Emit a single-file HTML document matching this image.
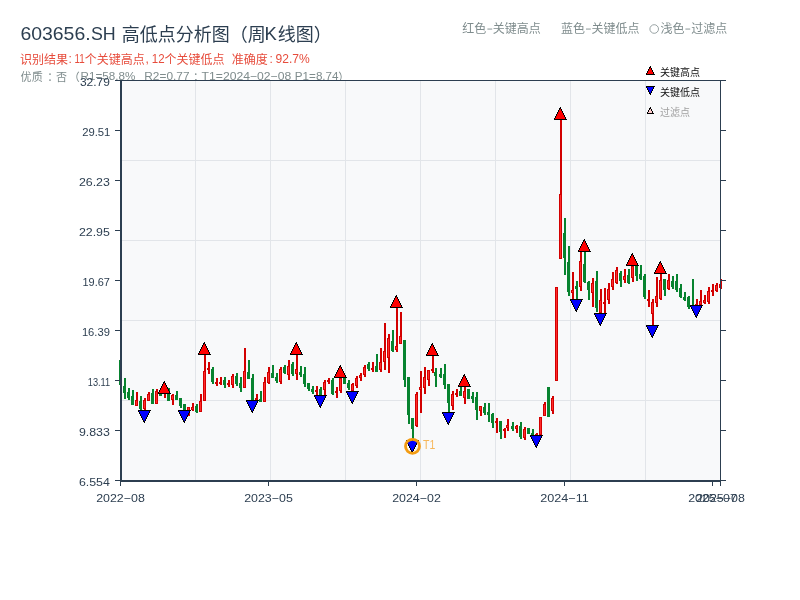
<!DOCTYPE html>
<html><head><meta charset="utf-8"><title>603656.SH</title>
<style>
html,body{margin:0;padding:0;background:#fff;}
body{width:800px;height:600px;overflow:hidden;font-family:"Liberation Sans","Noto Sans CJK SC",sans-serif;}
svg{display:block;will-change:transform;}
svg text{font-family:"Liberation Sans","Noto Sans CJK SC",sans-serif;}
</style></head><body>
<svg width="800" height="600" viewBox="0 0 800 600">
<defs>
<g id="tu" shape-rendering="crispEdges"><rect x="6" y="0" width="1" height="1" fill="#000"/><rect x="5" y="1" width="2" height="1" fill="#000"/><rect x="5" y="2" width="3" height="1" fill="#000"/><rect x="6" y="2" width="1" height="1" fill="#ff0000"/><rect x="4" y="3" width="4" height="1" fill="#000"/><rect x="5" y="3" width="2" height="1" fill="#ff0000"/><rect x="4" y="4" width="5" height="1" fill="#000"/><rect x="5" y="4" width="3" height="1" fill="#ff0000"/><rect x="3" y="5" width="6" height="1" fill="#000"/><rect x="4" y="5" width="4" height="1" fill="#ff0000"/><rect x="3" y="6" width="7" height="1" fill="#000"/><rect x="4" y="6" width="5" height="1" fill="#ff0000"/><rect x="2" y="7" width="8" height="1" fill="#000"/><rect x="3" y="7" width="6" height="1" fill="#ff0000"/><rect x="2" y="8" width="9" height="1" fill="#000"/><rect x="3" y="8" width="7" height="1" fill="#ff0000"/><rect x="1" y="9" width="10" height="1" fill="#000"/><rect x="2" y="9" width="8" height="1" fill="#ff0000"/><rect x="1" y="10" width="11" height="1" fill="#000"/><rect x="2" y="10" width="9" height="1" fill="#ff0000"/><rect x="0" y="11" width="12" height="1" fill="#000"/><rect x="1" y="11" width="10" height="1" fill="#ff0000"/><rect x="0" y="12" width="13" height="1" fill="#000"/></g><g id="td" shape-rendering="crispEdges"><rect x="6" y="12" width="1" height="1" fill="#000"/><rect x="5" y="11" width="2" height="1" fill="#000"/><rect x="5" y="10" width="3" height="1" fill="#000"/><rect x="6" y="10" width="1" height="1" fill="#0000ff"/><rect x="4" y="9" width="4" height="1" fill="#000"/><rect x="5" y="9" width="2" height="1" fill="#0000ff"/><rect x="4" y="8" width="5" height="1" fill="#000"/><rect x="5" y="8" width="3" height="1" fill="#0000ff"/><rect x="3" y="7" width="6" height="1" fill="#000"/><rect x="4" y="7" width="4" height="1" fill="#0000ff"/><rect x="3" y="6" width="7" height="1" fill="#000"/><rect x="4" y="6" width="5" height="1" fill="#0000ff"/><rect x="2" y="5" width="8" height="1" fill="#000"/><rect x="3" y="5" width="6" height="1" fill="#0000ff"/><rect x="2" y="4" width="9" height="1" fill="#000"/><rect x="3" y="4" width="7" height="1" fill="#0000ff"/><rect x="1" y="3" width="10" height="1" fill="#000"/><rect x="2" y="3" width="8" height="1" fill="#0000ff"/><rect x="1" y="2" width="11" height="1" fill="#000"/><rect x="2" y="2" width="9" height="1" fill="#0000ff"/><rect x="0" y="1" width="12" height="1" fill="#000"/><rect x="1" y="1" width="10" height="1" fill="#0000ff"/><rect x="0" y="0" width="13" height="1" fill="#000"/></g><g id="lu" shape-rendering="crispEdges"><rect x="4" y="0" width="1" height="1" fill="#000"/><rect x="3" y="1" width="2" height="1" fill="#000"/><rect x="3" y="2" width="3" height="1" fill="#000"/><rect x="4" y="2" width="1" height="1" fill="#ff0000"/><rect x="2" y="3" width="4" height="1" fill="#000"/><rect x="3" y="3" width="2" height="1" fill="#ff0000"/><rect x="2" y="4" width="5" height="1" fill="#000"/><rect x="3" y="4" width="3" height="1" fill="#ff0000"/><rect x="1" y="5" width="6" height="1" fill="#000"/><rect x="2" y="5" width="4" height="1" fill="#ff0000"/><rect x="1" y="6" width="7" height="1" fill="#000"/><rect x="2" y="6" width="5" height="1" fill="#ff0000"/><rect x="0" y="7" width="8" height="1" fill="#000"/><rect x="1" y="7" width="6" height="1" fill="#ff0000"/><rect x="0" y="8" width="9" height="1" fill="#000"/></g><g id="ld" shape-rendering="crispEdges"><rect x="4" y="8" width="1" height="1" fill="#000"/><rect x="3" y="7" width="2" height="1" fill="#000"/><rect x="3" y="6" width="3" height="1" fill="#000"/><rect x="4" y="6" width="1" height="1" fill="#0000ff"/><rect x="2" y="5" width="4" height="1" fill="#000"/><rect x="3" y="5" width="2" height="1" fill="#0000ff"/><rect x="2" y="4" width="5" height="1" fill="#000"/><rect x="3" y="4" width="3" height="1" fill="#0000ff"/><rect x="1" y="3" width="6" height="1" fill="#000"/><rect x="2" y="3" width="4" height="1" fill="#0000ff"/><rect x="1" y="2" width="7" height="1" fill="#000"/><rect x="2" y="2" width="5" height="1" fill="#0000ff"/><rect x="0" y="1" width="8" height="1" fill="#000"/><rect x="1" y="1" width="6" height="1" fill="#0000ff"/><rect x="0" y="0" width="9" height="1" fill="#000"/></g><g id="lp" shape-rendering="crispEdges"><rect x="3" y="0" width="1" height="1" fill="#000"/><rect x="2" y="1" width="2" height="1" fill="#000"/><rect x="2" y="2" width="3" height="1" fill="#000"/><rect x="3" y="2" width="1" height="1" fill="#ffcccc"/><rect x="1" y="3" width="4" height="1" fill="#000"/><rect x="2" y="3" width="2" height="1" fill="#ffcccc"/><rect x="1" y="4" width="5" height="1" fill="#000"/><rect x="2" y="4" width="3" height="1" fill="#ffcccc"/><rect x="0" y="5" width="6" height="1" fill="#000"/><rect x="1" y="5" width="4" height="1" fill="#ffcccc"/><rect x="0" y="6" width="7" height="1" fill="#000"/></g>
<clipPath id="pc"><rect x="119" y="80" width="603" height="402"/></clipPath>
</defs>
<rect width="800" height="600" fill="#fff"/>
<text x="20.5" y="80.8" font-size="11" fill="#7f8c8d" stroke="none" textLength="22.3">优质</text>
<text x="47.3" y="80.8" font-size="11" fill="#7f8c8d" stroke="none" textLength="11.0">：</text>
<text x="56.0" y="80.8" font-size="11" fill="#7f8c8d" stroke="none" textLength="11.0">否</text>
<text x="68.8" y="80.8" font-size="11" fill="#7f8c8d" stroke="none" textLength="11.0">（</text>
<text x="80.6" y="80.3" font-size="11" fill="#7f8c8d" textLength="54.8" lengthAdjust="spacingAndGlyphs">R1=58.8%</text>
<text x="144.3" y="80.3" font-size="11" fill="#7f8c8d" textLength="45.2" lengthAdjust="spacingAndGlyphs">R2=0.77</text>
<text x="193.0" y="80.8" font-size="11" fill="#7f8c8d" stroke="none" textLength="11.0">；</text>
<text x="201.6" y="80.3" font-size="11" fill="#7f8c8d" textLength="89.6" lengthAdjust="spacingAndGlyphs">T1=2024−02−08</text>
<text x="294.8" y="80.3" font-size="11" fill="#7f8c8d" textLength="43.8" lengthAdjust="spacingAndGlyphs">P1=8.74</text>
<text x="338.2" y="80.8" font-size="11" fill="#7f8c8d" stroke="none" textLength="11.0">）</text>
<text x="20.4" y="40.3" font-size="19" fill="#2c3e50" textLength="70.2" lengthAdjust="spacingAndGlyphs">603656.</text>
<text x="90.9" y="40.3" font-size="19" fill="#2c3e50" textLength="24.8" lengthAdjust="spacingAndGlyphs">SH</text>
<text x="121.7" y="41.4" font-size="18" fill="#2c3e50" stroke="none" textLength="144.0">高低点分析图（周</text>
<text x="264.4" y="40.3" font-size="18.5" fill="#2c3e50">K</text>
<text x="277.7" y="41.4" font-size="18" fill="#2c3e50" stroke="none" textLength="54.0">线图）</text>
<text x="20.0" y="63.6" font-size="12" fill="#e74c3c" stroke="none" textLength="48.0">识别结果</text>
<text x="68.6" y="63.3" font-size="12" fill="#e74c3c">:</text>
<text x="74.6" y="63.3" font-size="12" fill="#e74c3c" textLength="10.2" lengthAdjust="spacingAndGlyphs">11</text>
<text x="84.7" y="63.6" font-size="12" fill="#e74c3c" stroke="none" textLength="60.0">个关键高点</text>
<text x="145.4" y="63.3" font-size="12" fill="#e74c3c">,</text>
<text x="151.8" y="63.3" font-size="12" fill="#e74c3c" textLength="12.8" lengthAdjust="spacingAndGlyphs">12</text>
<text x="164.6" y="63.6" font-size="12" fill="#e74c3c" stroke="none" textLength="60.0">个关键低点</text>
<text x="231.8" y="63.6" font-size="12" fill="#e74c3c" stroke="none" textLength="36.0">准确度</text>
<text x="269.4" y="63.3" font-size="12" fill="#e74c3c">:</text>
<text x="275.6" y="63.3" font-size="12" fill="#e74c3c" textLength="34.2" lengthAdjust="spacingAndGlyphs">92.7%</text>
<text x="462.2" y="33.2" font-size="12" fill="#7f8c8d" stroke="none" textLength="24.0">红色</text>
<rect x="487.4" y="28.6" width="4.8" height="0.9" fill="#7f8c8d"/>
<text x="492.8" y="33.2" font-size="12" fill="#7f8c8d" stroke="none" textLength="48.0">关键高点</text>
<text x="561.0" y="33.2" font-size="12" fill="#7f8c8d" stroke="none" textLength="24.0">蓝色</text>
<rect x="586.0" y="28.6" width="4.8" height="0.9" fill="#7f8c8d"/>
<text x="591.6" y="33.2" font-size="12" fill="#7f8c8d" stroke="none" textLength="48.0">关键低点</text>
<circle cx="654.2" cy="29" r="4.3" fill="none" stroke="#7f8c8d" stroke-width="0.8"/>
<text x="660.5" y="33.2" font-size="12" fill="#7f8c8d" stroke="none" textLength="24.0">浅色</text>
<rect x="685.4" y="28.6" width="4.8" height="0.9" fill="#7f8c8d"/>
<text x="691.3" y="33.2" font-size="12" fill="#7f8c8d" stroke="none" textLength="36.0">过滤点</text>
<rect x="120" y="80" width="601" height="402" fill="#f8f9fa"/>
<rect x="122" y="160" width="598" height="1" fill="#e2e5e9"/>
<rect x="122" y="240" width="598" height="1" fill="#e2e5e9"/>
<rect x="122" y="320" width="598" height="1" fill="#e2e5e9"/>
<rect x="122" y="400" width="598" height="1" fill="#e2e5e9"/>
<rect x="195" y="81" width="1" height="399" fill="#e2e5e9"/>
<rect x="270" y="81" width="1" height="399" fill="#e2e5e9"/>
<rect x="345" y="81" width="1" height="399" fill="#e2e5e9"/>
<rect x="420" y="81" width="1" height="399" fill="#e2e5e9"/>
<rect x="495" y="81" width="1" height="399" fill="#e2e5e9"/>
<rect x="570" y="81" width="1" height="399" fill="#e2e5e9"/>
<rect x="645" y="81" width="1" height="399" fill="#e2e5e9"/>
<g clip-path="url(#pc)" shape-rendering="crispEdges">
<rect x="120.0" y="360" width="2" height="25" fill="#07832f"/>
<rect x="119.0" y="360" width="3" height="25" fill="#07832f"/>
<rect x="124.0" y="378" width="2" height="20.5" fill="#07832f"/>
<rect x="123.0" y="386" width="3" height="7" fill="#07832f"/>
<rect x="128.0" y="388" width="2" height="11.5" fill="#07832f"/>
<rect x="127.0" y="392" width="3" height="6" fill="#07832f"/>
<rect x="132.0" y="390" width="2" height="14.600000000000023" fill="#07832f"/>
<rect x="131.0" y="396" width="3" height="8.600000000000023" fill="#07832f"/>
<rect x="136.0" y="392" width="2" height="13.75" fill="#d20000"/>
<rect x="135.0" y="400" width="3" height="5.75" fill="#d20000"/>
<rect x="136.0" y="401" width="1" height="3.75" fill="#ff2b2b"/>
<rect x="140.0" y="396" width="2" height="14" fill="#07832f"/>
<rect x="139.0" y="401" width="3" height="7.75" fill="#07832f"/>
<rect x="144.0" y="398" width="2" height="12" fill="#d20000"/>
<rect x="143.0" y="400" width="3" height="8.75" fill="#d20000"/>
<rect x="144.0" y="401" width="1" height="6.75" fill="#ff2b2b"/>
<rect x="148.0" y="392" width="2" height="9" fill="#d20000"/>
<rect x="147.0" y="393.75" width="3" height="7.25" fill="#d20000"/>
<rect x="148.0" y="394.75" width="1" height="5.25" fill="#ff2b2b"/>
<rect x="152.0" y="389" width="2" height="15" fill="#07832f"/>
<rect x="151.0" y="393" width="3" height="11" fill="#07832f"/>
<rect x="156.0" y="389" width="2" height="15" fill="#d20000"/>
<rect x="155.0" y="391" width="3" height="13" fill="#d20000"/>
<rect x="156.0" y="392" width="1" height="11" fill="#ff2b2b"/>
<rect x="160.0" y="392" width="2" height="3.75" fill="#07832f"/>
<rect x="159.0" y="392" width="3" height="3.75" fill="#07832f"/>
<rect x="164.0" y="393" width="2" height="5" fill="#d20000"/>
<rect x="163.0" y="393" width="3" height="0.8" fill="#d20000"/>
<rect x="168.0" y="388" width="2" height="13" fill="#07832f"/>
<rect x="167.0" y="394" width="3" height="7" fill="#07832f"/>
<rect x="172.0" y="394" width="2" height="11" fill="#d20000"/>
<rect x="171.0" y="395" width="3" height="5" fill="#d20000"/>
<rect x="172.0" y="396" width="1" height="3" fill="#ff2b2b"/>
<rect x="176.0" y="391" width="2" height="9" fill="#07832f"/>
<rect x="175.0" y="395" width="3" height="5" fill="#07832f"/>
<rect x="180.0" y="398" width="2" height="9.75" fill="#07832f"/>
<rect x="179.0" y="398" width="3" height="8" fill="#07832f"/>
<rect x="184.0" y="404" width="2" height="6" fill="#07832f"/>
<rect x="183.0" y="404" width="3" height="6" fill="#07832f"/>
<rect x="188.0" y="407" width="2" height="8.600000000000023" fill="#d20000"/>
<rect x="187.0" y="407.4" width="3" height="5.600000000000023" fill="#d20000"/>
<rect x="188.0" y="408.4" width="1" height="3.6000000000000227" fill="#ff2b2b"/>
<rect x="192.0" y="403" width="2" height="7.75" fill="#d20000"/>
<rect x="191.0" y="407" width="3" height="2.6000000000000227" fill="#d20000"/>
<rect x="192.0" y="408" width="1" height="0.6000000000000227" fill="#ff2b2b"/>
<rect x="196.0" y="404" width="2" height="9" fill="#07832f"/>
<rect x="195.0" y="406" width="3" height="5.5" fill="#07832f"/>
<rect x="200.0" y="394" width="2" height="18" fill="#d20000"/>
<rect x="199.0" y="401" width="3" height="11" fill="#d20000"/>
<rect x="200.0" y="402" width="1" height="9" fill="#ff2b2b"/>
<rect x="204.0" y="354.5" width="2" height="46.5" fill="#d20000"/>
<rect x="203.0" y="371" width="3" height="30" fill="#d20000"/>
<rect x="204.0" y="372" width="1" height="28" fill="#ff2b2b"/>
<rect x="208.0" y="362" width="2" height="11.75" fill="#d20000"/>
<rect x="207.0" y="368" width="3" height="2" fill="#d20000"/>
<rect x="212.0" y="367" width="2" height="17" fill="#07832f"/>
<rect x="211.0" y="369.25" width="3" height="12.75" fill="#07832f"/>
<rect x="216.0" y="378" width="2" height="7.75" fill="#d20000"/>
<rect x="215.0" y="382" width="3" height="2" fill="#d20000"/>
<rect x="220.0" y="377" width="2" height="7.600000000000023" fill="#d20000"/>
<rect x="219.0" y="382" width="3" height="2" fill="#d20000"/>
<rect x="224.0" y="377" width="2" height="10.600000000000023" fill="#07832f"/>
<rect x="223.0" y="380" width="3" height="4.600000000000023" fill="#07832f"/>
<rect x="228.0" y="380" width="2" height="7" fill="#d20000"/>
<rect x="227.0" y="383" width="3" height="2" fill="#d20000"/>
<rect x="232.0" y="374" width="2" height="13.600000000000023" fill="#d20000"/>
<rect x="231.0" y="376" width="3" height="8.600000000000023" fill="#d20000"/>
<rect x="232.0" y="377" width="1" height="6.600000000000023" fill="#ff2b2b"/>
<rect x="236.0" y="373.4" width="2" height="12.350000000000023" fill="#07832f"/>
<rect x="235.0" y="376" width="3" height="8" fill="#07832f"/>
<rect x="240.0" y="377" width="2" height="14.75" fill="#07832f"/>
<rect x="239.0" y="383" width="3" height="4.600000000000023" fill="#07832f"/>
<rect x="244.0" y="348" width="2" height="39.60000000000002" fill="#d20000"/>
<rect x="243.0" y="371" width="3" height="16.600000000000023" fill="#d20000"/>
<rect x="244.0" y="372" width="1" height="14.600000000000023" fill="#ff2b2b"/>
<rect x="248.0" y="360" width="2" height="18.600000000000023" fill="#07832f"/>
<rect x="247.0" y="372" width="3" height="6.600000000000023" fill="#07832f"/>
<rect x="252.0" y="374" width="2" height="26" fill="#07832f"/>
<rect x="251.0" y="378" width="3" height="22" fill="#07832f"/>
<rect x="256.0" y="394" width="2" height="6" fill="#d20000"/>
<rect x="255.0" y="398" width="3" height="2" fill="#d20000"/>
<rect x="260.0" y="391" width="2" height="10.5" fill="#07832f"/>
<rect x="259.0" y="398.5" width="3" height="3.0" fill="#07832f"/>
<rect x="264.0" y="377" width="2" height="24.5" fill="#d20000"/>
<rect x="263.0" y="382" width="3" height="19.5" fill="#d20000"/>
<rect x="264.0" y="383" width="1" height="17.5" fill="#ff2b2b"/>
<rect x="268.0" y="367" width="2" height="17" fill="#d20000"/>
<rect x="267.0" y="372" width="3" height="11" fill="#d20000"/>
<rect x="268.0" y="373" width="1" height="9" fill="#ff2b2b"/>
<rect x="272.0" y="365.25" width="2" height="12.75" fill="#07832f"/>
<rect x="271.0" y="373" width="3" height="5" fill="#07832f"/>
<rect x="276.0" y="373" width="2" height="10" fill="#07832f"/>
<rect x="275.0" y="377.25" width="3" height="3.75" fill="#07832f"/>
<rect x="280.0" y="367" width="2" height="17" fill="#d20000"/>
<rect x="279.0" y="368.6" width="3" height="13.399999999999977" fill="#d20000"/>
<rect x="280.0" y="369.6" width="1" height="11.399999999999977" fill="#ff2b2b"/>
<rect x="284.0" y="365.25" width="2" height="8.75" fill="#07832f"/>
<rect x="283.0" y="367" width="3" height="5.75" fill="#07832f"/>
<rect x="288.0" y="360" width="2" height="20" fill="#d20000"/>
<rect x="287.0" y="366" width="3" height="9" fill="#d20000"/>
<rect x="288.0" y="367" width="1" height="7" fill="#ff2b2b"/>
<rect x="292.0" y="362" width="2" height="13.75" fill="#07832f"/>
<rect x="291.0" y="364" width="3" height="10" fill="#07832f"/>
<rect x="296.0" y="354.5" width="2" height="25.5" fill="#d20000"/>
<rect x="295.0" y="369.4" width="3" height="4.600000000000023" fill="#d20000"/>
<rect x="296.0" y="370.4" width="1" height="2.6000000000000227" fill="#ff2b2b"/>
<rect x="300.0" y="366" width="2" height="11" fill="#07832f"/>
<rect x="299.0" y="372" width="3" height="3" fill="#07832f"/>
<rect x="304.0" y="367" width="2" height="20" fill="#07832f"/>
<rect x="303.0" y="374" width="3" height="10" fill="#07832f"/>
<rect x="308.0" y="383" width="2" height="7.75" fill="#07832f"/>
<rect x="307.0" y="383.25" width="3" height="5.75" fill="#07832f"/>
<rect x="312.0" y="386" width="2" height="7.75" fill="#07832f"/>
<rect x="311.0" y="389" width="3" height="3" fill="#07832f"/>
<rect x="316.0" y="386" width="2" height="9" fill="#d20000"/>
<rect x="315.0" y="390" width="3" height="2" fill="#d20000"/>
<rect x="320.0" y="387" width="2" height="8" fill="#07832f"/>
<rect x="319.0" y="389" width="3" height="6" fill="#07832f"/>
<rect x="324.0" y="380" width="2" height="15" fill="#d20000"/>
<rect x="323.0" y="382" width="3" height="8" fill="#d20000"/>
<rect x="324.0" y="383" width="1" height="6" fill="#ff2b2b"/>
<rect x="328.0" y="378" width="2" height="5.75" fill="#d20000"/>
<rect x="327.0" y="380" width="3" height="2" fill="#d20000"/>
<rect x="332.0" y="378" width="2" height="17" fill="#07832f"/>
<rect x="331.0" y="380" width="3" height="14" fill="#07832f"/>
<rect x="336.0" y="387" width="2" height="11" fill="#d20000"/>
<rect x="335.0" y="391" width="3" height="1.75" fill="#d20000"/>
<rect x="340.0" y="377.5" width="2" height="15.25" fill="#d20000"/>
<rect x="339.0" y="378" width="3" height="13" fill="#d20000"/>
<rect x="340.0" y="379" width="1" height="11" fill="#ff2b2b"/>
<rect x="344.0" y="377.75" width="2" height="6.0" fill="#07832f"/>
<rect x="343.0" y="377.75" width="3" height="6.0" fill="#07832f"/>
<rect x="348.0" y="380" width="2" height="9.75" fill="#07832f"/>
<rect x="347.0" y="383" width="3" height="5" fill="#07832f"/>
<rect x="352.0" y="383" width="2" height="8" fill="#d20000"/>
<rect x="351.0" y="384" width="3" height="7" fill="#d20000"/>
<rect x="352.0" y="385" width="1" height="5" fill="#ff2b2b"/>
<rect x="356.0" y="376" width="2" height="12" fill="#d20000"/>
<rect x="355.0" y="378" width="3" height="8" fill="#d20000"/>
<rect x="356.0" y="379" width="1" height="6" fill="#ff2b2b"/>
<rect x="360.0" y="373" width="2" height="7.75" fill="#d20000"/>
<rect x="359.0" y="375" width="3" height="2.75" fill="#d20000"/>
<rect x="360.0" y="376" width="1" height="0.75" fill="#ff2b2b"/>
<rect x="364.0" y="365" width="2" height="12" fill="#d20000"/>
<rect x="363.0" y="367.25" width="3" height="7.75" fill="#d20000"/>
<rect x="364.0" y="368.25" width="1" height="5.75" fill="#ff2b2b"/>
<rect x="368.0" y="362" width="2" height="9" fill="#07832f"/>
<rect x="367.0" y="364.25" width="3" height="4.75" fill="#07832f"/>
<rect x="372.0" y="362" width="2" height="9.75" fill="#d20000"/>
<rect x="371.0" y="368" width="3" height="2" fill="#d20000"/>
<rect x="376.0" y="354" width="2" height="17.75" fill="#07832f"/>
<rect x="375.0" y="366" width="3" height="5.75" fill="#07832f"/>
<rect x="380.0" y="348" width="2" height="23.75" fill="#d20000"/>
<rect x="379.0" y="362" width="3" height="8" fill="#d20000"/>
<rect x="380.0" y="363" width="1" height="6" fill="#ff2b2b"/>
<rect x="384.0" y="323" width="2" height="47" fill="#d20000"/>
<rect x="383.0" y="351" width="3" height="11" fill="#d20000"/>
<rect x="384.0" y="352" width="1" height="9" fill="#ff2b2b"/>
<rect x="388.0" y="334" width="2" height="39" fill="#d20000"/>
<rect x="387.0" y="338" width="3" height="20" fill="#d20000"/>
<rect x="388.0" y="339" width="1" height="18" fill="#ff2b2b"/>
<rect x="392.0" y="330" width="2" height="22" fill="#07832f"/>
<rect x="391.0" y="341" width="3" height="10" fill="#07832f"/>
<rect x="396.0" y="307.5" width="2" height="44.5" fill="#d20000"/>
<rect x="395.0" y="346" width="3" height="4" fill="#d20000"/>
<rect x="396.0" y="347" width="1" height="2" fill="#ff2b2b"/>
<rect x="400.0" y="312" width="2" height="32" fill="#d20000"/>
<rect x="399.0" y="336" width="3" height="8" fill="#d20000"/>
<rect x="400.0" y="337" width="1" height="6" fill="#ff2b2b"/>
<rect x="404.0" y="340" width="2" height="47" fill="#07832f"/>
<rect x="403.0" y="340" width="3" height="40" fill="#07832f"/>
<rect x="408.0" y="377" width="2" height="47" fill="#07832f"/>
<rect x="407.0" y="377" width="3" height="38" fill="#07832f"/>
<rect x="412.0" y="418" width="2" height="21" fill="#07832f"/>
<rect x="411.0" y="418" width="3" height="11" fill="#07832f"/>
<rect x="416.0" y="392" width="2" height="35" fill="#d20000"/>
<rect x="415.0" y="394" width="3" height="32" fill="#d20000"/>
<rect x="416.0" y="395" width="1" height="30" fill="#ff2b2b"/>
<rect x="420.0" y="371" width="2" height="42" fill="#d20000"/>
<rect x="419.0" y="387" width="3" height="2.6000000000000227" fill="#d20000"/>
<rect x="420.0" y="388" width="1" height="0.6000000000000227" fill="#ff2b2b"/>
<rect x="424.0" y="367" width="2" height="27" fill="#d20000"/>
<rect x="423.0" y="377" width="3" height="11" fill="#d20000"/>
<rect x="424.0" y="378" width="1" height="9" fill="#ff2b2b"/>
<rect x="428.0" y="370" width="2" height="16" fill="#d20000"/>
<rect x="427.0" y="370.25" width="3" height="9.75" fill="#d20000"/>
<rect x="428.0" y="371.25" width="1" height="7.75" fill="#ff2b2b"/>
<rect x="432.0" y="355.5" width="2" height="17.5" fill="#d20000"/>
<rect x="431.0" y="369" width="3" height="2" fill="#d20000"/>
<rect x="435.0" y="368" width="2" height="18.75" fill="#07832f"/>
<rect x="434.0" y="372" width="3" height="4" fill="#07832f"/>
<rect x="440.0" y="368" width="2" height="9.75" fill="#07832f"/>
<rect x="439.0" y="374" width="3" height="3" fill="#07832f"/>
<rect x="444.0" y="364" width="2" height="25" fill="#07832f"/>
<rect x="443.0" y="374" width="3" height="11" fill="#07832f"/>
<rect x="448.0" y="384" width="2" height="28.5" fill="#07832f"/>
<rect x="447.0" y="384" width="3" height="19" fill="#07832f"/>
<rect x="452.0" y="391" width="2" height="19" fill="#d20000"/>
<rect x="451.0" y="394.25" width="3" height="11.75" fill="#d20000"/>
<rect x="452.0" y="395.25" width="1" height="9.75" fill="#ff2b2b"/>
<rect x="456.0" y="389" width="2" height="8" fill="#d20000"/>
<rect x="455.0" y="392.75" width="3" height="2.25" fill="#d20000"/>
<rect x="456.0" y="393.75" width="1" height="0.25" fill="#ff2b2b"/>
<rect x="460.0" y="387" width="2" height="8.75" fill="#07832f"/>
<rect x="459.0" y="391" width="3" height="4.75" fill="#07832f"/>
<rect x="464.0" y="387" width="2" height="17" fill="#d20000"/>
<rect x="463.0" y="391" width="3" height="7" fill="#d20000"/>
<rect x="464.0" y="392" width="1" height="5" fill="#ff2b2b"/>
<rect x="468.0" y="389" width="2" height="9.75" fill="#07832f"/>
<rect x="467.0" y="389" width="3" height="9.75" fill="#07832f"/>
<rect x="472.0" y="392" width="2" height="11" fill="#07832f"/>
<rect x="471.0" y="396" width="3" height="2.75" fill="#07832f"/>
<rect x="476.0" y="392" width="2" height="28" fill="#07832f"/>
<rect x="475.0" y="397" width="3" height="13" fill="#07832f"/>
<rect x="480.0" y="406" width="2" height="10" fill="#d20000"/>
<rect x="479.0" y="406" width="3" height="4.75" fill="#d20000"/>
<rect x="480.0" y="407" width="1" height="2.75" fill="#ff2b2b"/>
<rect x="484.0" y="403" width="2" height="12" fill="#07832f"/>
<rect x="483.0" y="407" width="3" height="6" fill="#07832f"/>
<rect x="488.0" y="403" width="2" height="19" fill="#07832f"/>
<rect x="487.0" y="412" width="3" height="3" fill="#07832f"/>
<rect x="492.0" y="413" width="2" height="15" fill="#07832f"/>
<rect x="491.0" y="413.75" width="3" height="9.0" fill="#07832f"/>
<rect x="496.0" y="418" width="2" height="15" fill="#d20000"/>
<rect x="495.0" y="421" width="3" height="2" fill="#d20000"/>
<rect x="500.0" y="421" width="2" height="18" fill="#07832f"/>
<rect x="499.0" y="421" width="3" height="11" fill="#07832f"/>
<rect x="504.0" y="428" width="2" height="10" fill="#d20000"/>
<rect x="503.0" y="428.75" width="3" height="1.8500000000000227" fill="#d20000"/>
<rect x="507.0" y="419" width="2" height="12" fill="#d20000"/>
<rect x="506.0" y="425" width="3" height="3.3999999999999773" fill="#d20000"/>
<rect x="507.0" y="426" width="1" height="1.3999999999999773" fill="#ff2b2b"/>
<rect x="512.0" y="422" width="2" height="9" fill="#07832f"/>
<rect x="511.0" y="425.75" width="3" height="3.25" fill="#07832f"/>
<rect x="516.0" y="425" width="2" height="7.75" fill="#d20000"/>
<rect x="515.0" y="426" width="3" height="3" fill="#d20000"/>
<rect x="516.0" y="427" width="1" height="1" fill="#ff2b2b"/>
<rect x="520.0" y="422" width="2" height="16.75" fill="#07832f"/>
<rect x="519.0" y="426" width="3" height="11" fill="#07832f"/>
<rect x="524.0" y="426.75" width="2" height="12.75" fill="#d20000"/>
<rect x="523.0" y="429" width="3" height="8.600000000000023" fill="#d20000"/>
<rect x="524.0" y="430" width="1" height="6.600000000000023" fill="#ff2b2b"/>
<rect x="528.0" y="428" width="2" height="5.5" fill="#07832f"/>
<rect x="527.0" y="428" width="3" height="5.5" fill="#07832f"/>
<rect x="532.0" y="429" width="2" height="6" fill="#07832f"/>
<rect x="531.0" y="432.75" width="3" height="2.25" fill="#07832f"/>
<rect x="536.0" y="432.75" width="2" height="2.25" fill="#d20000"/>
<rect x="535.0" y="433.5" width="3" height="1.5" fill="#d20000"/>
<rect x="540.0" y="417" width="2" height="18" fill="#d20000"/>
<rect x="539.0" y="417" width="3" height="18" fill="#d20000"/>
<rect x="540.0" y="418" width="1" height="16" fill="#ff2b2b"/>
<rect x="544.0" y="402" width="2" height="14" fill="#d20000"/>
<rect x="543.0" y="404" width="3" height="12" fill="#d20000"/>
<rect x="544.0" y="405" width="1" height="10" fill="#ff2b2b"/>
<rect x="548.0" y="387" width="2" height="29.600000000000023" fill="#07832f"/>
<rect x="547.0" y="387" width="3" height="29.600000000000023" fill="#07832f"/>
<rect x="552.0" y="396" width="2" height="17.600000000000023" fill="#d20000"/>
<rect x="551.0" y="398.25" width="3" height="12.350000000000023" fill="#d20000"/>
<rect x="552.0" y="399.25" width="1" height="10.350000000000023" fill="#ff2b2b"/>
<rect x="556.0" y="287" width="2" height="94" fill="#d20000"/>
<rect x="555.0" y="287" width="3" height="94" fill="#d20000"/>
<rect x="556.0" y="288" width="1" height="92" fill="#ff2b2b"/>
<rect x="560.0" y="119.5" width="2" height="139.5" fill="#d20000"/>
<rect x="559.0" y="194" width="3" height="65" fill="#d20000"/>
<rect x="560.0" y="195" width="1" height="63" fill="#ff2b2b"/>
<rect x="564.0" y="218" width="2" height="57" fill="#07832f"/>
<rect x="563.0" y="233" width="3" height="25" fill="#07832f"/>
<rect x="568.0" y="246" width="2" height="50" fill="#07832f"/>
<rect x="567.0" y="262" width="3" height="30" fill="#07832f"/>
<rect x="572.0" y="272" width="2" height="27" fill="#d20000"/>
<rect x="571.0" y="290" width="3" height="2.5" fill="#d20000"/>
<rect x="572.0" y="291" width="1" height="0.5" fill="#ff2b2b"/>
<rect x="576.0" y="281" width="2" height="18" fill="#07832f"/>
<rect x="575.0" y="286" width="3" height="3" fill="#07832f"/>
<rect x="580.0" y="251.5" width="2" height="39.0" fill="#d20000"/>
<rect x="579.0" y="261" width="3" height="26" fill="#d20000"/>
<rect x="580.0" y="262" width="1" height="24" fill="#ff2b2b"/>
<rect x="584.0" y="251.5" width="2" height="31.0" fill="#07832f"/>
<rect x="583.0" y="264" width="3" height="18" fill="#07832f"/>
<rect x="588.0" y="281" width="2" height="18.5" fill="#07832f"/>
<rect x="587.0" y="282" width="3" height="8" fill="#07832f"/>
<rect x="592.0" y="278" width="2" height="28.5" fill="#d20000"/>
<rect x="591.0" y="283" width="3" height="10" fill="#d20000"/>
<rect x="592.0" y="284" width="1" height="8" fill="#ff2b2b"/>
<rect x="596.0" y="271" width="2" height="40.5" fill="#07832f"/>
<rect x="595.0" y="281" width="3" height="27" fill="#07832f"/>
<rect x="600.0" y="289" width="2" height="24" fill="#d20000"/>
<rect x="599.0" y="300" width="3" height="13" fill="#d20000"/>
<rect x="600.0" y="301" width="1" height="11" fill="#ff2b2b"/>
<rect x="604.0" y="288" width="2" height="25" fill="#d20000"/>
<rect x="603.0" y="302" width="3" height="2" fill="#d20000"/>
<rect x="608.0" y="283" width="2" height="20.5" fill="#d20000"/>
<rect x="607.0" y="289" width="3" height="11" fill="#d20000"/>
<rect x="608.0" y="290" width="1" height="9" fill="#ff2b2b"/>
<rect x="612.0" y="272" width="2" height="17.5" fill="#d20000"/>
<rect x="611.0" y="279" width="3" height="8" fill="#d20000"/>
<rect x="612.0" y="280" width="1" height="6" fill="#ff2b2b"/>
<rect x="616.0" y="267" width="2" height="16.5" fill="#d20000"/>
<rect x="615.0" y="270" width="3" height="13" fill="#d20000"/>
<rect x="616.0" y="271" width="1" height="11" fill="#ff2b2b"/>
<rect x="620.0" y="271" width="2" height="16" fill="#07832f"/>
<rect x="619.0" y="273" width="3" height="8" fill="#07832f"/>
<rect x="624.0" y="269" width="2" height="14" fill="#d20000"/>
<rect x="623.0" y="276" width="3" height="4" fill="#d20000"/>
<rect x="624.0" y="277" width="1" height="2" fill="#ff2b2b"/>
<rect x="628.0" y="269" width="2" height="15" fill="#07832f"/>
<rect x="627.0" y="275" width="3" height="8" fill="#07832f"/>
<rect x="632.0" y="265.5" width="2" height="16.5" fill="#d20000"/>
<rect x="631.0" y="266" width="3" height="12" fill="#d20000"/>
<rect x="632.0" y="267" width="1" height="10" fill="#ff2b2b"/>
<rect x="636.0" y="265.5" width="2" height="15.5" fill="#07832f"/>
<rect x="635.0" y="266" width="3" height="10" fill="#07832f"/>
<rect x="640.0" y="265" width="2" height="15" fill="#07832f"/>
<rect x="639.0" y="274" width="3" height="5" fill="#07832f"/>
<rect x="644.0" y="274" width="2" height="24.5" fill="#07832f"/>
<rect x="643.0" y="276" width="3" height="21" fill="#07832f"/>
<rect x="648.0" y="290" width="2" height="16.5" fill="#d20000"/>
<rect x="647.0" y="299" width="3" height="2" fill="#d20000"/>
<rect x="652.0" y="299" width="2" height="26.5" fill="#d20000"/>
<rect x="651.0" y="302" width="3" height="12" fill="#d20000"/>
<rect x="652.0" y="303" width="1" height="10" fill="#ff2b2b"/>
<rect x="656.0" y="277" width="2" height="29.5" fill="#d20000"/>
<rect x="655.0" y="296" width="3" height="7" fill="#d20000"/>
<rect x="656.0" y="297" width="1" height="5" fill="#ff2b2b"/>
<rect x="660.0" y="273.5" width="2" height="26.0" fill="#d20000"/>
<rect x="659.0" y="280" width="3" height="19" fill="#d20000"/>
<rect x="660.0" y="281" width="1" height="17" fill="#ff2b2b"/>
<rect x="664.0" y="279" width="2" height="17" fill="#07832f"/>
<rect x="663.0" y="279" width="3" height="11" fill="#07832f"/>
<rect x="668.0" y="274" width="2" height="16" fill="#d20000"/>
<rect x="667.0" y="280" width="3" height="9" fill="#d20000"/>
<rect x="668.0" y="281" width="1" height="7" fill="#ff2b2b"/>
<rect x="672.0" y="276" width="2" height="12.75" fill="#07832f"/>
<rect x="671.0" y="281.25" width="3" height="5.75" fill="#07832f"/>
<rect x="676.0" y="274" width="2" height="17.75" fill="#07832f"/>
<rect x="675.0" y="281.25" width="3" height="8.75" fill="#07832f"/>
<rect x="680.0" y="284.25" width="2" height="13.5" fill="#07832f"/>
<rect x="679.0" y="288" width="3" height="8.600000000000023" fill="#07832f"/>
<rect x="684.0" y="292" width="2" height="8.75" fill="#07832f"/>
<rect x="683.0" y="297" width="3" height="2.6000000000000227" fill="#07832f"/>
<rect x="688.0" y="296" width="2" height="13" fill="#07832f"/>
<rect x="687.0" y="297" width="3" height="9.75" fill="#07832f"/>
<rect x="692.0" y="279" width="2" height="26.25" fill="#07832f"/>
<rect x="691.0" y="304.5" width="3" height="0.8" fill="#07832f"/>
<rect x="696.0" y="299" width="2" height="6.25" fill="#d20000"/>
<rect x="695.0" y="304" width="3" height="1.25" fill="#d20000"/>
<rect x="700.0" y="290" width="2" height="15.25" fill="#d20000"/>
<rect x="699.0" y="301" width="3" height="4.25" fill="#d20000"/>
<rect x="700.0" y="302" width="1" height="2.25" fill="#ff2b2b"/>
<rect x="704.0" y="295" width="2" height="8.75" fill="#d20000"/>
<rect x="703.0" y="300" width="3" height="3" fill="#d20000"/>
<rect x="704.0" y="301" width="1" height="1" fill="#ff2b2b"/>
<rect x="708.0" y="287" width="2" height="16.75" fill="#d20000"/>
<rect x="707.0" y="291" width="3" height="11" fill="#d20000"/>
<rect x="708.0" y="292" width="1" height="9" fill="#ff2b2b"/>
<rect x="712.0" y="284" width="2" height="12" fill="#d20000"/>
<rect x="711.0" y="290" width="3" height="1.75" fill="#d20000"/>
<rect x="716.0" y="283" width="2" height="8.75" fill="#d20000"/>
<rect x="715.0" y="285" width="3" height="6" fill="#d20000"/>
<rect x="716.0" y="286" width="1" height="4" fill="#ff2b2b"/>
<rect x="720.0" y="279" width="2" height="9.75" fill="#d20000"/>
<rect x="719.0" y="284" width="3" height="4" fill="#d20000"/>
<rect x="720.0" y="285" width="1" height="2" fill="#ff2b2b"/>
</g>
<use href="#tu" x="158" y="381"/>
<use href="#tu" x="198" y="342"/>
<use href="#tu" x="290" y="342"/>
<use href="#tu" x="334" y="365"/>
<use href="#tu" x="390" y="295"/>
<use href="#tu" x="426" y="343"/>
<use href="#tu" x="458" y="374"/>
<use href="#tu" x="554" y="107"/>
<use href="#tu" x="578" y="239"/>
<use href="#tu" x="626" y="253"/>
<use href="#tu" x="654" y="261"/>
<use href="#td" x="138" y="410"/>
<use href="#td" x="178" y="410"/>
<use href="#td" x="246" y="400"/>
<use href="#td" x="314" y="395"/>
<use href="#td" x="346" y="391"/>
<use href="#td" x="406" y="440"/>
<use href="#td" x="442" y="412"/>
<use href="#td" x="530" y="435"/>
<use href="#td" x="570" y="299"/>
<use href="#td" x="594" y="313"/>
<use href="#td" x="646" y="325"/>
<use href="#td" x="690" y="305"/>
<circle cx="412.5" cy="446.3" r="7.0" fill="none" stroke="#f39c12" stroke-width="2.8"/>
<text x="423.0" y="449.1" font-size="12" fill="#f6b75a" textLength="12.2" lengthAdjust="spacingAndGlyphs">T1</text>
<rect x="120" y="80" width="601" height="1" fill="#2c3e50"/>
<rect x="720" y="80" width="1" height="402" fill="#2c3e50"/>
<rect x="120" y="80" width="2" height="402" fill="#2c3e50"/>
<rect x="120" y="480" width="601" height="2" fill="#2c3e50"/>
<rect x="115" y="80" width="5" height="1" fill="#2c3e50"/>
<rect x="721" y="80" width="5" height="1" fill="#2c3e50"/>
<text x="109.9" y="85.9" font-size="11" fill="#2c3e50" text-anchor="end" textLength="30.0" lengthAdjust="spacingAndGlyphs">32.79</text>
<rect x="115" y="130" width="5" height="1" fill="#2c3e50"/>
<rect x="721" y="130" width="5" height="1" fill="#2c3e50"/>
<text x="110.4" y="135.9" font-size="11" fill="#2c3e50" text-anchor="end" textLength="28.2" lengthAdjust="spacingAndGlyphs">29.51</text>
<rect x="115" y="180" width="5" height="1" fill="#2c3e50"/>
<rect x="721" y="180" width="5" height="1" fill="#2c3e50"/>
<text x="109.9" y="185.9" font-size="11" fill="#2c3e50" text-anchor="end" textLength="31" lengthAdjust="spacingAndGlyphs">26.23</text>
<rect x="115" y="230" width="5" height="1" fill="#2c3e50"/>
<rect x="721" y="230" width="5" height="1" fill="#2c3e50"/>
<text x="109.9" y="235.9" font-size="11" fill="#2c3e50" text-anchor="end" textLength="31" lengthAdjust="spacingAndGlyphs">22.95</text>
<rect x="115" y="280" width="5" height="1" fill="#2c3e50"/>
<rect x="721" y="280" width="5" height="1" fill="#2c3e50"/>
<text x="109.9" y="285.9" font-size="11" fill="#2c3e50" text-anchor="end" textLength="27.4" lengthAdjust="spacingAndGlyphs">19.67</text>
<rect x="115" y="330" width="5" height="1" fill="#2c3e50"/>
<rect x="721" y="330" width="5" height="1" fill="#2c3e50"/>
<text x="109.9" y="335.9" font-size="11" fill="#2c3e50" text-anchor="end" textLength="28" lengthAdjust="spacingAndGlyphs">16.39</text>
<rect x="115" y="380" width="5" height="1" fill="#2c3e50"/>
<rect x="721" y="380" width="5" height="1" fill="#2c3e50"/>
<text x="110.2" y="385.9" font-size="11" fill="#2c3e50" text-anchor="end" textLength="22.4" lengthAdjust="spacingAndGlyphs">13.11</text>
<rect x="115" y="430" width="5" height="1" fill="#2c3e50"/>
<rect x="721" y="430" width="5" height="1" fill="#2c3e50"/>
<text x="109.9" y="435.9" font-size="11" fill="#2c3e50" text-anchor="end" textLength="31" lengthAdjust="spacingAndGlyphs">9.833</text>
<rect x="115" y="480" width="5" height="1" fill="#2c3e50"/>
<rect x="721" y="480" width="5" height="1" fill="#2c3e50"/>
<text x="109.9" y="485.9" font-size="11" fill="#2c3e50" text-anchor="end" textLength="31" lengthAdjust="spacingAndGlyphs">6.554</text>
<rect x="120" y="482" width="1" height="4" fill="#2c3e50"/>
<text x="120.5" y="502" font-size="11" fill="#2c3e50" text-anchor="middle" textLength="48.6" lengthAdjust="spacingAndGlyphs">2022−08</text>
<rect x="268" y="482" width="1" height="4" fill="#2c3e50"/>
<text x="268.5" y="502" font-size="11" fill="#2c3e50" text-anchor="middle" textLength="48.6" lengthAdjust="spacingAndGlyphs">2023−05</text>
<rect x="416" y="482" width="1" height="4" fill="#2c3e50"/>
<text x="416.5" y="502" font-size="11" fill="#2c3e50" text-anchor="middle" textLength="48.6" lengthAdjust="spacingAndGlyphs">2024−02</text>
<rect x="564" y="482" width="1" height="4" fill="#2c3e50"/>
<text x="564.5" y="502" font-size="11" fill="#2c3e50" text-anchor="middle" textLength="48.6" lengthAdjust="spacingAndGlyphs">2024−11</text>
<rect x="712" y="482" width="1" height="4" fill="#2c3e50"/>
<text x="712.5" y="502" font-size="11" fill="#2c3e50" text-anchor="middle" textLength="48.6" lengthAdjust="spacingAndGlyphs">2025−07</text>
<rect x="720" y="482" width="1" height="4" fill="#2c3e50"/>
<text x="720.5" y="502" font-size="11" fill="#2c3e50" text-anchor="middle" textLength="48.6" lengthAdjust="spacingAndGlyphs">2025−08</text>
<use href="#lu" x="646" y="66"/>
<text x="660.0" y="76.4" font-size="10" fill="#111" stroke="none" textLength="40.0">关键高点</text>
<use href="#ld" x="646" y="86"/>
<text x="660.0" y="96.3" font-size="10" fill="#111" stroke="none" textLength="40.0">关键低点</text>
<use href="#lp" x="647" y="107"/>
<text x="660.0" y="116.3" font-size="10" fill="#a0a0a0" stroke="none" textLength="30.0">过滤点</text>
</svg>
</body></html>
